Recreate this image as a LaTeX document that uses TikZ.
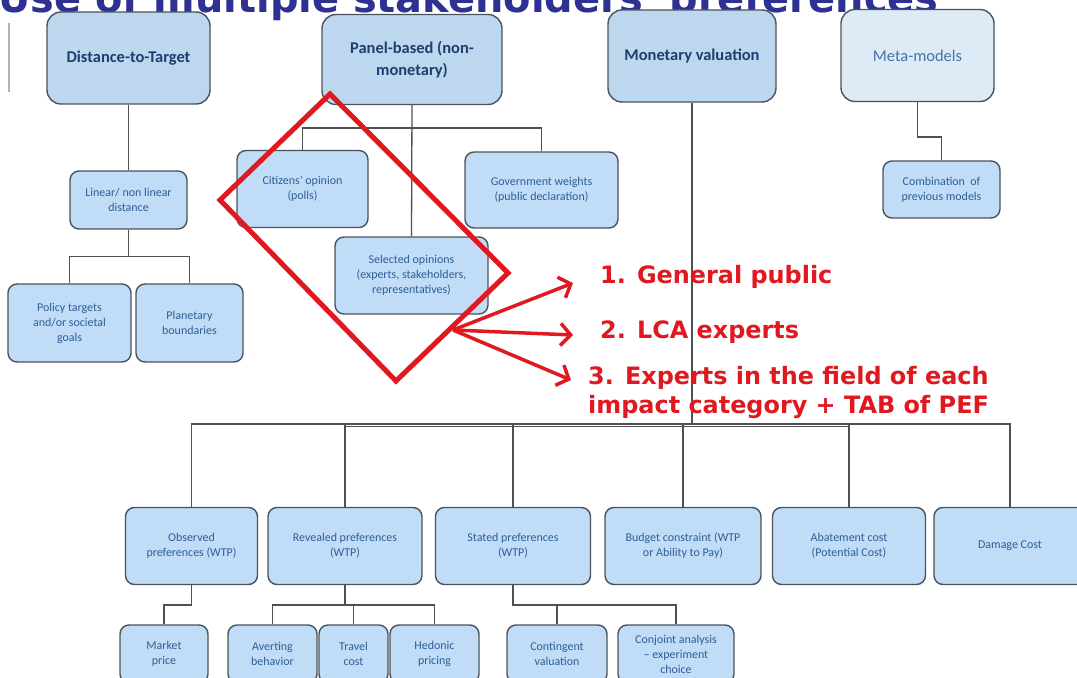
\documentclass[tikz,border=0pt]{standalone}
\usepackage{fontspec}
\setmainfont{Carlito}
\newfontfamily\dejavu{DejaVu Sans}
\usetikzlibrary{arrows.meta,calc}
\definecolor{bordc}{HTML}{4A535C}
\definecolor{topc}{HTML}{BDD7EE}
\definecolor{boxc}{HTML}{C0DCF6}
\definecolor{metac}{HTML}{DDEBF7}
\definecolor{navyc}{HTML}{1F3D6E}
\definecolor{txtc}{HTML}{2F5E98}
\definecolor{metatxt}{HTML}{4474AA}
\definecolor{redc}{HTML}{E01820}
\definecolor{titlec}{HTML}{2E3192}
\definecolor{connc}{HTML}{505050}
\begin{document}
\begin{tikzpicture}[x=1bp,y=-1bp,
  sz/.style 2 args={minimum width=#1bp, minimum height=#2bp},
  box/.style={draw=bordc, line width=1.4bp, fill=boxc, rounded corners=9bp,
    align=center, text=txtc, font=\fontsize{12}{15}\selectfont, inner sep=0pt},
  topbox/.style={box, fill=topc, rounded corners=14bp, text=navyc,
    font=\bfseries\fontsize{16.5}{22}\selectfont},
  conn/.style={draw=connc, line width=1.3bp},
  redarr/.style={draw=redc, line width=3.5bp, -{Straight Barb[length=10bp,width=22bp]}},
  redtxt/.style={text=redc, font=\dejavu\bfseries\fontsize{24}{28}\selectfont, inner sep=0pt, anchor=base west},
  titletxt/.style={text=titlec, font=\dejavu\bfseries\fontsize{40}{44}\selectfont, inner sep=0pt, anchor=base west}
]
\fill[white] (0,0) rectangle (1077,678);
\useasboundingbox (0,0) rectangle (1077,678);

% title (cut at top)
\node[titletxt] (ttl) at (-2,12.5) {Use of multiple stakeholders' preferences};
\draw[gray!60, line width=1.2bp] (9,23) -- (9,92);

% top row
\node[topbox, sz={163}{92}] (dtt) at (128.5,58) {Distance-to-Target};
\node[topbox, sz={180}{90}] (pan) at (412,59.5) {Panel-based (non-\\monetary)};
\node[topbox, sz={168}{92}] (mon) at (692,56) {Monetary valuation};
\node[topbox, fill=metac, text=metatxt, font=\fontsize{16.5}{22}\selectfont, sz={153}{92}] (meta) at (917.5,55.5) {Meta-models};

% second level
\node[box, sz={117}{58}] (lin) at (128.5,200) {Linear/ non linear\\distance};
\node[box, sz={131}{77}] (cit) at (302.5,189) {Citizens' opinion\\(polls)};
\node[box, sz={153}{76}] (gov) at (541.5,190) {Government weights\\(public declaration)};
\node[box, sz={153}{77}] (sel) at (411.5,275.5) {Selected opinions\\(experts, stakeholders,\\representatives)};
\node[box, sz={117}{57}] (comb) at (941.5,189.5) {Combination\ \ of\\previous models};
\node[box, sz={123}{78}] (pol) at (69.5,323) {Policy targets\\and/or societal\\goals};
\node[box, sz={107}{78}] (pla) at (189.5,323) {Planetary\\boundaries};

% monetary children
\node[box, sz={132}{77}] (obs) at (191.5,546) {Observed\\preferences (WTP)};
\node[box, sz={154}{77}] (rev) at (345,546) {Revealed preferences\\(WTP)};
\node[box, sz={155}{77}] (sta) at (513,546) {Stated preferences\\(WTP)};
\node[box, sz={156}{77}] (bud) at (683,546) {Budget constraint (WTP\\or Ability to Pay)};
\node[box, sz={153}{77}] (aba) at (849,546) {Abatement cost\\(Potential Cost)};
\node[box, sz={152}{77}] (dam) at (1010,546) {Damage Cost};

% bottom tier
\node[box, sz={88}{58}] (mkt) at (164,654) {Market\\price};
\node[box, sz={89}{58}] (avt) at (272.5,654) {Averting\\behavior};
\node[box, sz={69}{58}] (trv) at (353.5,654) {Travel\\cost};
\node[box, sz={89}{58}] (hed) at (434.5,654) {Hedonic\\pricing};
\node[box, sz={100}{58}] (cont) at (557,654) {Contingent\\valuation};
\node[box, sz={116}{58}] (conj) at (676,654) {Conjoint analysis\\-- experiment\\choice};

% junction coordinates
\coordinate (jl) at (128.5,256.5);
\coordinate (jp) at (412,128);
\coordinate (jm) at (917.5,137);
\coordinate (bus) at (693,424);
\coordinate (bus2) at (0,426.5);
\coordinate (jo) at (191.5,605);
\coordinate (jr) at (345,605);
\coordinate (js) at (513,605);

% connectors
\draw[conn] (dtt.south) -- (lin.north);
\draw[conn] (lin.south) -- (jl);
\draw[conn] (pol.north) |- (jl) -| (pla.north);
\draw[conn] (pan.south) -- (sel.north);
\draw[conn] (cit.north) |- (jp) -| (gov.north);
\draw[conn] (meta.south) -- (jm) -| (comb.north);
\draw[conn] (mon.south) -- (mon.south |- bus);
\draw[conn] (obs.north) |- (bus) -| (dam.north);
\foreach \n in {rev,sta,bud,aba} \draw[conn] (\n.north) -- (\n.north |- bus);
\draw[conn] (rev.north |- bus2) -- (aba.north |- bus2);
\draw[conn] (obs.south) -- (jo) -| (mkt.north);
\draw[conn] (rev.south) -- (jr);
\draw[conn] (avt.north) |- (jr) -| (hed.north);
\draw[conn] (trv.north) -- (trv.north |- jr);
\draw[conn] (sta.south) -- (js) -| (conj.north);
\draw[conn] (cont.north) -- (cont.north |- js);

% red highlight
\draw[redc, line width=5bp, line join=miter] (330,94) -- (508,273) -- (396,381) -- (220,200) -- cycle;
\coordinate (src) at (453,330);
\coordinate (a1) at (573,283);
\coordinate (a2) at (573,335);
\coordinate (a3) at (571,380);
\draw[redarr] (src) -- (a1);
\draw[redarr] (src) -- (a2);
\draw[redarr] (src) -- (a3);

\node[redtxt] (r1) at (600,283) {1. General public};
\node[redtxt] (r2) at (600,338) {2. LCA experts};
\node[redtxt] (r3) at (588,384) {3. Experts in the field of each};
\node[redtxt] (r4) at (588,413) {impact category + TAB of PEF};
\end{tikzpicture}
\end{document}
